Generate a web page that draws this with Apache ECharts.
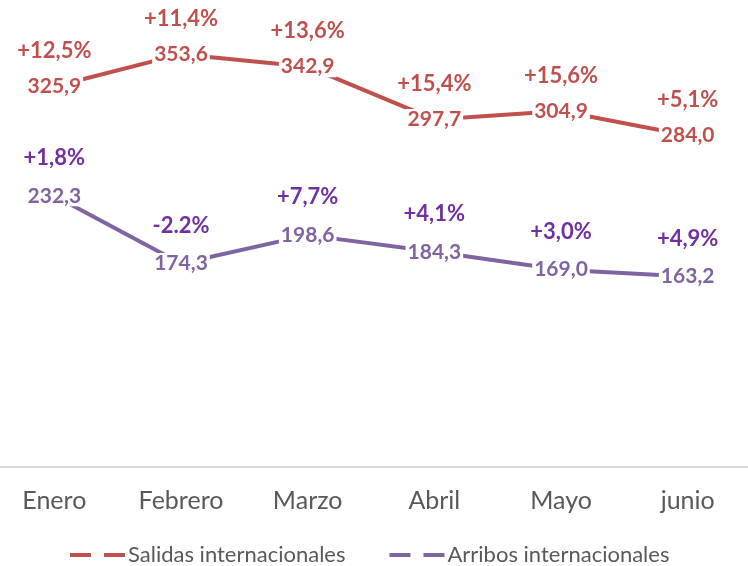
<!DOCTYPE html>
<html><head><meta charset="utf-8">
<script src="https://cdn.jsdelivr.net/npm/echarts@6/dist/echarts.min.js"></script>
<style>html,body{margin:0;padding:0;background:#fff;overflow:hidden}#c{width:760px;height:566px;margin-left:-9px}</style>
</head><body><div id="c"></div>
<script>
const categories = ['Enero','Febrero','Marzo','Abril','Mayo','junio'];
const salidas = [325.9, 353.6, 342.9, 297.7, 304.9, 284.0];
const arribos = [232.3, 174.3, 198.6, 184.3, 169.0, 163.2];
const salidasPct = ['+12,5%','+11,4%','+13,6%','+15,4%','+15,6%','+5,1%'];
const arribosPct = ['+1,8%','-2.2%','+7,7%','+4,1%','+3,0%','+4,9%'];
const seriesNames = ['Salidas internacionales','Arribos internacionales'];

const FONT = 'Lato, "Open Sans", sans-serif';
const fmt = v => v.toFixed(1).replace('.', ',');

function mkSeries(name, data, pct, lineColor, pctColor, pLH) {
  return {
    name, type: 'line', data, symbol: 'circle', symbolSize: 0.1,
    lineStyle: { color: lineColor, width: 4 },
    itemStyle: { color: lineColor },
    label: {
      show: true, position: 'inside', offset: [0, -pLH / 2],
      formatter: p => `{p|${pct[p.dataIndex]}}\n{v|${fmt(p.value)}}`,
      rich: {
        p: { fontFamily: FONT, fontWeight: 'bold', fontSize: 22, color: pctColor, lineHeight: pLH, align: 'center' },
        v: { fontFamily: FONT, fontWeight: 'bold', fontSize: 21, color: lineColor, lineHeight: 20, backgroundColor: '#fff', padding: [0, 2], align: 'center' }
      }
    }
  };
}

const dashIcon = 'path://M0,0H21V4H0Z M34,0H55V4H34Z';
const chart = echarts.init(document.getElementById('c'));
chart.setOption({
  animation: false,
  grid: { left: 0, right: 0, top: 0, bottom: 99, containLabel: false },
  xAxis: {
    type: 'category', data: categories,
    axisLine: { lineStyle: { color: '#D9D9D9', width: 2 } },
    axisTick: { show: false },
    axisLabel: { fontFamily: FONT, fontSize: 25, color: '#595959', margin: 21 }
  },
  yAxis: { type: 'value', min: 0, max: 400, show: false },
  legend: {
    top: 539, left: 74, itemGap: 44, itemWidth: 55, itemHeight: 4,
    textStyle: { fontFamily: FONT, fontSize: 22, color: '#595959', padding: [0, 0, 0, -2] },
    data: [
      { name: seriesNames[0], icon: dashIcon },
      { name: seriesNames[1], icon: dashIcon }
    ]
  },
  series: [
    mkSeries(seriesNames[0], salidas, salidasPct, '#C0504D', '#C0504D', 51),
    mkSeries(seriesNames[1], arribos, arribosPct, '#8064A2', '#7030A0', 56)
  ]
});
</script></body></html>
